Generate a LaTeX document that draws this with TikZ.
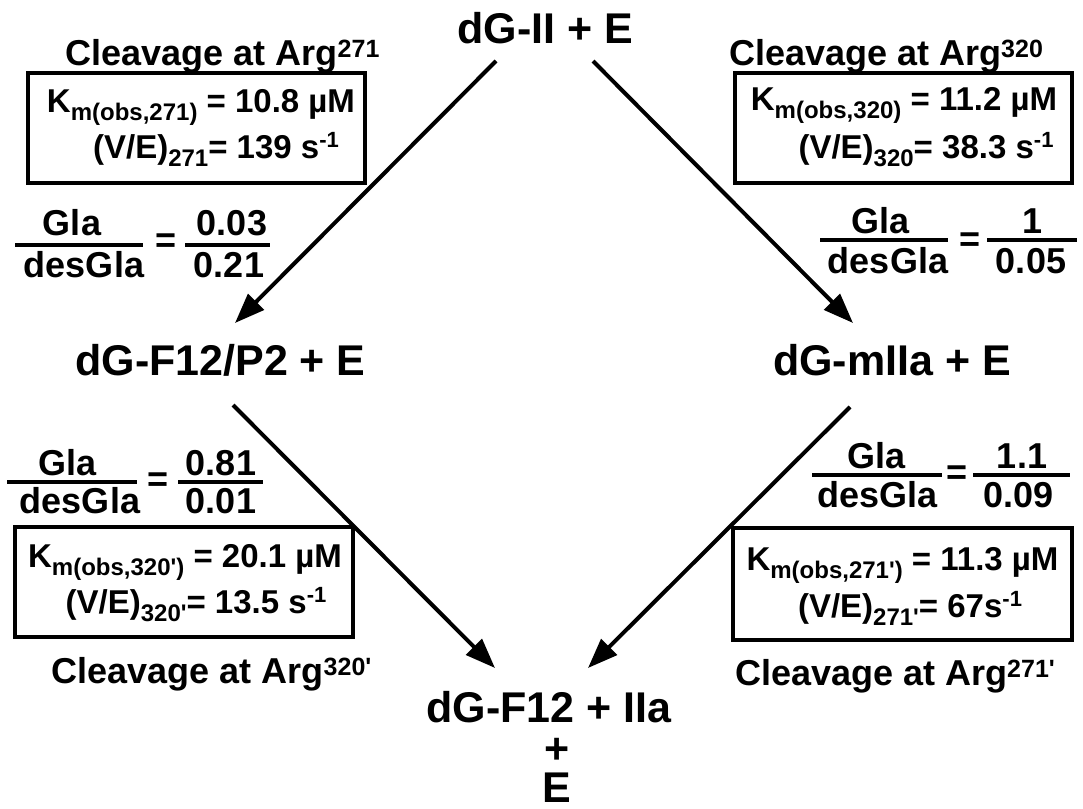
\documentclass[tikz,border=0pt]{standalone}
\usepackage{fontspec}
\newfontfamily\arial{Liberation Sans}
\usetikzlibrary{arrows.meta}
\newcommand{\SubB}[1]{\raisebox{-8pt}{\fontsize{24}{24}\selectfont #1}}
\newcommand{\SupB}[1]{\raisebox{11pt}{\fontsize{22}{22}\selectfont #1}}
\newcommand{\SupC}[1]{\raisebox{8pt}{\fontsize{25}{25}\selectfont #1}}
\begin{document}
\begin{tikzpicture}[x=1pt,y=-1pt,
  every node/.style={inner sep=0pt, font=\arial\bfseries},
  big/.style={font=\arial\bfseries\fontsize{43}{43}\selectfont, anchor=base},
  cleave/.style={font=\arial\bfseries\fontsize{36}{36}\selectfont, anchor=base},
  boxline/.style={font=\arial\bfseries\fontsize{33}{33}\selectfont, anchor=base},
  frac/.style={font=\arial\bfseries\fontsize{36}{36}\selectfont, anchor=base},
  eqsign/.style={font=\arial\bfseries\fontsize{36}{36}\selectfont, anchor=center},
  fbar/.style={line width=4pt},
  panel/.style={draw, line width=4pt},
  react/.style={line width=4pt, -{Triangle[length=30pt,width=22pt]}}
]
\useasboundingbox (0,0) rectangle (1083,808);

% main species
\node[big] (top) at (545.5,44) {dG-II + E};
\node[big] (left) at (220.5,375) {dG-F12/P2 + E};
\node[big] (right) at (892,375) {dG-mIIa + E};
\node[big] (bot) at (549,722) {dG-F12 + IIa};
\node[big] (botplus) at (557,763) {+};
\node[big] (botE) at (557,802) {E};

% arrows
\coordinate (a1s) at (496,61);  \coordinate (a1e) at (235,323);
\coordinate (a2s) at (593,61);  \coordinate (a2e) at (853,323);
\coordinate (a3s) at (233,405); \coordinate (a3e) at (495,668);
\coordinate (a4s) at (850,407); \coordinate (a4e) at (588,668);
\draw[react] (a1s) -- (a1e);
\draw[react] (a2s) -- (a2e);
\draw[react] (a3s) -- (a3e);
\draw[react] (a4s) -- (a4e);

% ---- top left
\node[cleave] (c1) at (222.5,65) {Cleavage at Arg\SupC{271}};
\node[panel, minimum width=337pt, minimum height=110pt] (b1) at (196.5,128) {};
\node[boxline] (b1l1) at (201,112) {K\SubB{m(obs,271)} = 10.8 µM};
\node[boxline] (b1l2) at (216,158) {(V/E)\SubB{271}= 139 s\SupB{-1}};
\node[frac] (f1n) at (72,235) {Gla};
\node[frac] (f1d) at (84,277) {desGla};
\draw[fbar] (15,245) -- (143,245);
\node[eqsign] (f1e) at (166,243) {=};
\node[frac] (f1rn) at (232,235) {0.03};
\node[frac] (f1rd) at (229,277) {0.21};
\draw[fbar] (185,245) -- (270,245);

% ---- top right
\node[cleave] (c2) at (886,65) {Cleavage at Arg\SupC{320}};
\node[panel, minimum width=337pt, minimum height=110pt] (b2) at (903.5,128) {};
\node[boxline] (b2l1) at (904,110) {K\SubB{m(obs,320)} = 11.2 µM};
\node[boxline] (b2l2) at (926,158) {(V/E)\SubB{320}= 38.3 s\SupB{-1}};
\node[frac] (f2n) at (880,233) {Gla};
\node[frac] (f2d) at (888,273) {desGla};
\draw[fbar] (820,240) -- (948,240);
\node[eqsign] (f2e) at (970,242) {=};
\node[frac] (f2rn) at (1032,233) {1};
\node[frac] (f2rd) at (1031,273) {0.05};
\draw[fbar] (987,240) -- (1077,240);

% ---- bottom left
\node[frac] (f3n) at (67.5,475) {Gla};
\node[frac] (f3d) at (80,513) {desGla};
\draw[fbar] (7,482) -- (137,482);
\node[eqsign] (f3e) at (158,482) {=};
\node[frac] (f3rn) at (221,475) {0.81};
\node[frac] (f3rd) at (221,513) {0.01};
\draw[fbar] (178,482) -- (263,482);
\node[panel, minimum width=338pt, minimum height=110pt] (b3) at (184,582) {};
\node[boxline] (b3l1) at (185,567) {K\SubB{m(obs,320')} = 20.1 µM};
\node[boxline] (b3l2) at (196,613) {(V/E)\SubB{320'}= 13.5 s\SupB{-1}};
\node[cleave] (c3) at (211.5,683) {Cleavage at Arg\SupC{320'}};

% ---- bottom right
\node[frac] (f4n) at (876,468) {Gla};
\node[frac] (f4d) at (877.5,507) {desGla};
\draw[fbar] (812,475) -- (942,475);
\node[eqsign] (f4e) at (957,475) {=};
\node[frac] (f4rn) at (1022,468) {1.1};
\node[frac] (f4rd) at (1018.5,507) {0.09};
\draw[fbar] (973,475) -- (1070,475);
\node[panel, minimum width=339pt, minimum height=112pt] (b4) at (902.5,584) {};
\node[boxline] (b4l1) at (902.5,570) {K\SubB{m(obs,271')} = 11.3 µM};
\node[boxline] (b4l2) at (910,617) {(V/E)\SubB{271'}= 67s\SupB{-1}};
\node[cleave] (c4) at (895,685) {Cleavage at Arg\SupC{271'}};
\end{tikzpicture}
\end{document}
